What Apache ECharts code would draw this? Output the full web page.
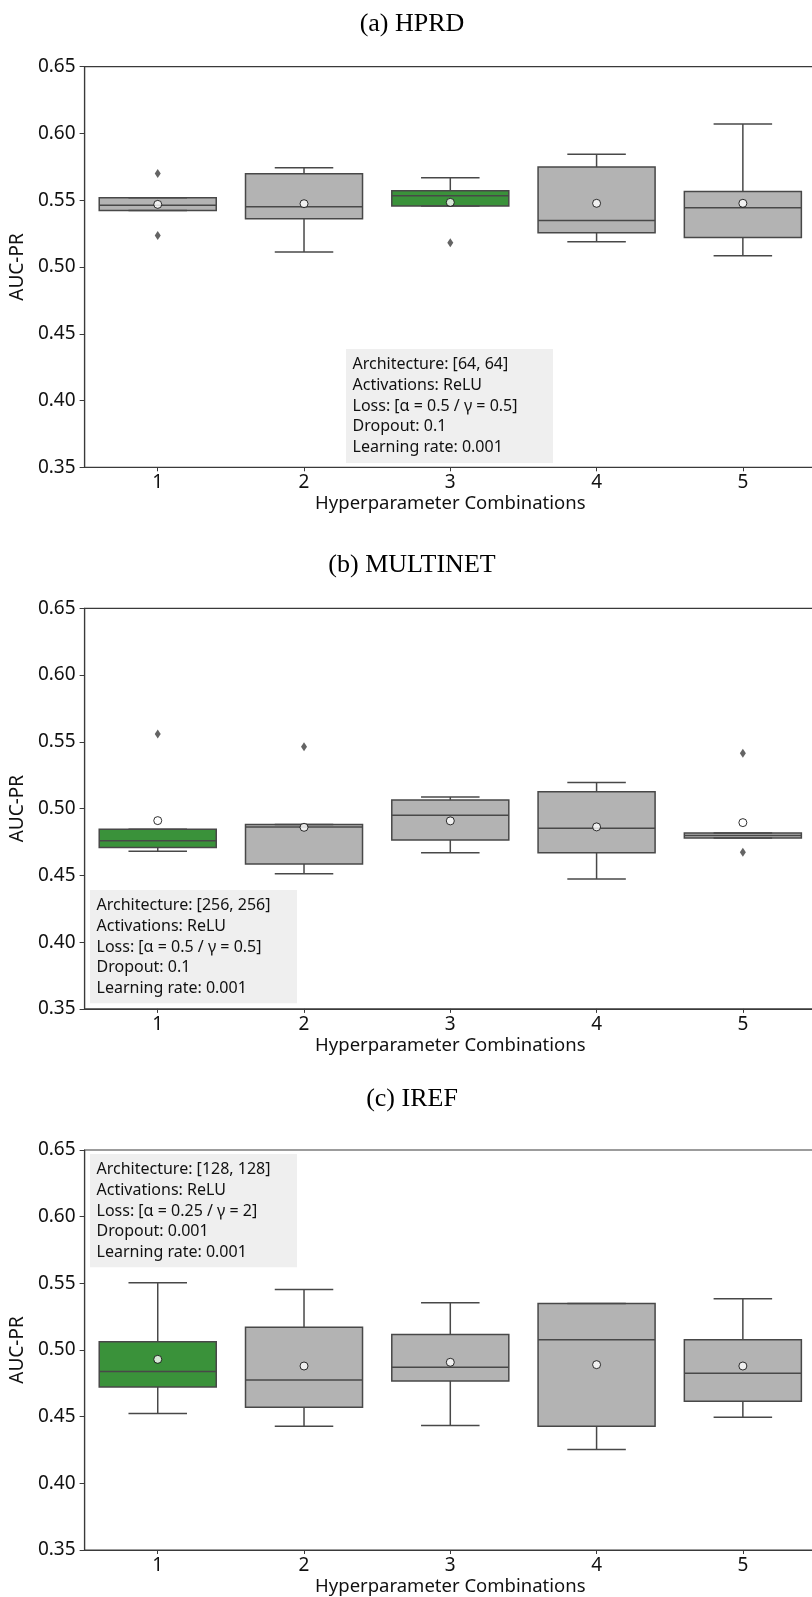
<!DOCTYPE html>
<html><head><meta charset="utf-8">
<script src="https://cdn.jsdelivr.net/npm/echarts@6/dist/echarts.min.js"></script>
<style>html,body{margin:0;padding:0;background:#fff;overflow:hidden}#c{width:822px;height:1597px}</style>
</head><body><div id="c"></div>
<script>
const categories = ['1', '2', '3', '4', '5'];
const panelTitles = ['(a) HPRD', '(b) MULTINET', '(c) IREF'];
const yAxisName = 'AUC-PR';
const xAxisName = 'Hyperparameter Combinations';

// each box: [lower whisker, Q1, median, Q3, upper whisker]
const hprdBoxes = [
  [0.5424, 0.5424, 0.5462, 0.5519, 0.5519],
  [0.5112, 0.5362, 0.5452, 0.5699, 0.5744],
  [0.5457, 0.5457, 0.5534, 0.5571, 0.5669],
  [0.5190, 0.5257, 0.5349, 0.5749, 0.5844],
  [0.5085, 0.5220, 0.5444, 0.5566, 0.6071]
];
const hprdMeans = [0.5469, 0.5474, 0.5484, 0.5477, 0.5477];
const hprdOutliers = [[0, 0.5701], [0, 0.5235], [2, 0.5182]];
const hprdBest = 2;
const hprdInfo = ['Architecture: [64, 64]', 'Activations: ReLU', 'Loss: [\u03b1 = 0.5 / \u03b3 = 0.5]', 'Dropout: 0.1', 'Learning rate: 0.001'];

const multinetBoxes = [
  [0.4680, 0.4708, 0.4760, 0.4845, 0.4845],
  [0.4513, 0.4586, 0.4863, 0.4880, 0.4880],
  [0.4670, 0.4765, 0.4950, 0.5065, 0.5087],
  [0.4473, 0.4670, 0.4853, 0.5127, 0.5195],
  [0.4780, 0.4780, 0.4798, 0.4818, 0.4818]
];
const multinetMeans = [0.4910, 0.4860, 0.4908, 0.4863, 0.4895];
const multinetOutliers = [[0, 0.5559], [1, 0.5464], [4, 0.5414], [4, 0.4673]];
const multinetBest = 0;
const multinetInfo = ['Architecture: [256, 256]', 'Activations: ReLU', 'Loss: [\u03b1 = 0.5 / \u03b3 = 0.5]', 'Dropout: 0.1', 'Learning rate: 0.001'];

const irefBoxes = [
  [0.4523, 0.4723, 0.4838, 0.5062, 0.5504],
  [0.4428, 0.4571, 0.4775, 0.5170, 0.5454],
  [0.4433, 0.4768, 0.4870, 0.5117, 0.5354],
  [0.4254, 0.4428, 0.5077, 0.5349, 0.5349],
  [0.4496, 0.4616, 0.4825, 0.5077, 0.5384]
];
const irefMeans = [0.4930, 0.4880, 0.4908, 0.4890, 0.4880];
const irefOutliers = [];
const irefBest = 0;
const irefInfo = ['Architecture: [128, 128]', 'Activations: ReLU', 'Loss: [\u03b1 = 0.25 / \u03b3 = 2]', 'Dropout: 0.001', 'Learning rate: 0.001'];

const yMin = 0.35, yMax = 0.65, yStep = 0.05;

// ---- styling / layout ----
const GREEN = '#3a923a', GRAY = '#b3b3b3', EDGE = '#484848', AXIS = '#3a3a3a';
const FONT = 'Noto Sans';
const panels = [
  {boxes: hprdBoxes, means: hprdMeans, outliers: hprdOutliers, best: hprdBest, info: hprdInfo, top: 66.7, titleY: 24, box: [346, 349, 207, 114]},
  {boxes: multinetBoxes, means: multinetMeans, outliers: multinetOutliers, best: multinetBest, info: multinetInfo, top: 608.3, titleY: 565, box: [90, 890, 207, 113.3]},
  {boxes: irefBoxes, means: irefMeans, outliers: irefOutliers, best: irefBest, info: irefInfo, top: 1150, titleY: 1099.5, box: [90, 1154, 207, 113.3]}
];
const GRID_LEFT = 84, GRID_W = 732, GRID_H = 400.6;

function renderBox(params, api) {
  const x = api.value(0);
  const lo = api.coord([x, api.value(1)]);
  const q1 = api.coord([x, api.value(2)]);
  const md = api.coord([x, api.value(3)]);
  const q3 = api.coord([x, api.value(4)]);
  const hi = api.coord([x, api.value(5)]);
  const band = api.size([1, 0])[0];
  const bw = band * 0.8, cw = bw * 0.5;
  const cx = lo[0];
  const fill = api.value(6) ? GREEN : GRAY;
  const ls = {stroke: EDGE, lineWidth: 1.5, fill: null};
  return {type: 'group', children: [
    {type: 'rect', shape: {x: cx - bw / 2, y: q3[1], width: bw, height: q1[1] - q3[1]}, style: {fill: fill, stroke: EDGE, lineWidth: 1.5}},
    {type: 'line', shape: {x1: cx, y1: q3[1], x2: cx, y2: hi[1]}, style: ls},
    {type: 'line', shape: {x1: cx, y1: q1[1], x2: cx, y2: lo[1]}, style: ls},
    {type: 'line', shape: {x1: cx - cw / 2, y1: hi[1], x2: cx + cw / 2, y2: hi[1]}, style: ls},
    {type: 'line', shape: {x1: cx - cw / 2, y1: lo[1], x2: cx + cw / 2, y2: lo[1]}, style: ls},
    {type: 'line', shape: {x1: cx - bw / 2, y1: md[1], x2: cx + bw / 2, y2: md[1]}, style: ls}
  ]};
}

const grid = [], xAxis = [], yAxis = [], series = [], graphic = [];
panels.forEach((p, i) => {
  grid.push({left: GRID_LEFT, top: p.top, width: GRID_W, height: GRID_H, show: true, borderColor: AXIS, borderWidth: 1.2, backgroundColor: 'transparent', containLabel: false});
  xAxis.push({
    type: 'category', gridIndex: i, data: categories, boundaryGap: true,
    name: xAxisName, nameLocation: 'middle', nameGap: 27,
    nameTextStyle: {fontFamily: FONT, fontSize: 18.5, color: '#111'},
    axisLine: {show: true, lineStyle: {color: AXIS, width: 1.2}},
    axisTick: {show: true, alignWithLabel: true, length: 4, lineStyle: {color: AXIS}},
    axisLabel: {fontFamily: FONT, fontSize: 19, color: '#111', margin: 6},
    splitLine: {show: false}
  });
  yAxis.push({
    type: 'value', gridIndex: i, min: yMin, max: yMax, interval: yStep,
    name: yAxisName, nameLocation: 'middle', nameGap: 50,
    nameTextStyle: {fontFamily: FONT, fontSize: 19, color: '#111'},
    axisLine: {show: true, lineStyle: {color: AXIS, width: 1.2}},
    axisTick: {show: true, length: 5, lineStyle: {color: AXIS}},
    axisLabel: {fontFamily: FONT, fontSize: 19, color: '#111', margin: 9, formatter: v => v.toFixed(2)},
    splitLine: {show: false}
  });
  series.push({
    type: 'custom', xAxisIndex: i, yAxisIndex: i, renderItem: renderBox, z: 2,
    encode: {x: 0, y: [1, 2, 3, 4, 5]},
    data: p.boxes.map((b, k) => [k, b[0], b[1], b[2], b[3], b[4], k === p.best ? 1 : 0])
  });
  series.push({
    type: 'scatter', xAxisIndex: i, yAxisIndex: i, z: 3,
    symbol: 'diamond', symbolSize: [6, 9],
    itemStyle: {color: '#3d3d3d'},
    data: p.outliers
  });
  series.push({
    type: 'scatter', xAxisIndex: i, yAxisIndex: i, z: 4,
    symbol: 'circle', symbolSize: 8,
    itemStyle: {color: '#ffffff', borderColor: '#000000', borderWidth: 1},
    data: p.means.map((m, k) => [k, m])
  });
  graphic.push({
    type: 'text', x: 412, y: p.titleY, z: 10,
    style: {text: panelTitles[i], fontFamily: 'Liberation Serif', fontSize: 26, fill: '#000', textAlign: 'center', textVerticalAlign: 'middle'}
  });
  graphic.push({
    type: 'rect', x: p.box[0], y: p.box[1], z: 5,
    shape: {width: p.box[2], height: p.box[3]},
    style: {fill: '#efefef'}
  });
  graphic.push({
    type: 'text', x: p.box[0] + 6.5, y: p.box[1] + 5.5, z: 6,
    style: {text: p.info.join('\n'), fontFamily: FONT, fontSize: 16, lineHeight: 20.6, fill: '#111', textVerticalAlign: 'top'}
  });
});

const chart = echarts.init(document.getElementById('c'), null, {renderer: 'canvas'});
chart.setOption({
  animation: false,
  backgroundColor: '#ffffff',
  grid, xAxis, yAxis, series, graphic
});
</script>
</body></html>
